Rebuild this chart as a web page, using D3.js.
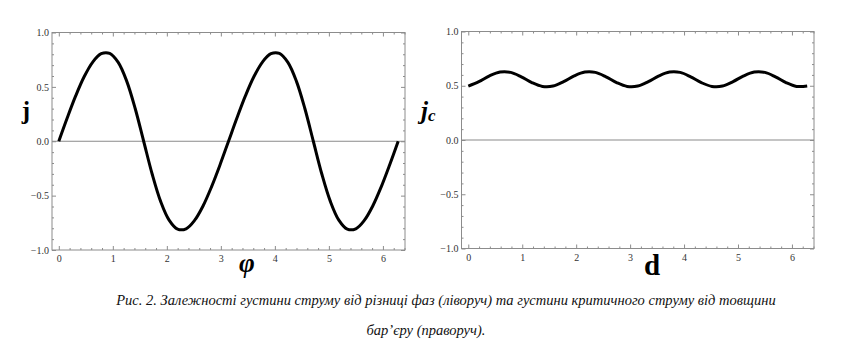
<!DOCTYPE html>
<html>
<head>
<meta charset="utf-8">
<script src="https://cdn.jsdelivr.net/npm/d3@7"></script>
<style>
  html, body { margin: 0; padding: 0; background: #fff; }
  svg { display: block; }
  svg text { font-family: "Liberation Serif", "Times New Roman", "DejaVu Serif", serif; }
</style>
</head>
<body>
<svg id="chart" width="842" height="361"></svg>
<script>
// ---- data ----
const phiValues = [0, 0.157, 0.314, 0.471, 0.628, 0.785, 0.942, 1.100, 1.257, 1.414,
  1.571, 1.728, 1.885, 2.042, 2.199, 2.356, 2.513, 2.670, 2.827, 2.985,
  3.142, 3.299, 3.456, 3.613, 3.770, 3.927, 4.084, 4.241, 4.398, 4.555,
  4.712, 4.869, 5.027, 5.184, 5.341, 5.498, 5.655, 5.812, 5.969, 6.126, 6.283];
const jValues = [0, 0.216, 0.419, 0.595, 0.728, 0.805, 0.808, 0.725, 0.553, 0.301,
  0, -0.301, -0.553, -0.725, -0.808, -0.805, -0.728, -0.595, -0.419, -0.216,
  0, 0.216, 0.419, 0.595, 0.728, 0.805, 0.808, 0.725, 0.553, 0.301,
  0, -0.301, -0.553, -0.725, -0.808, -0.805, -0.728, -0.595, -0.419, -0.216, 0];

const dValues = [0, 0.196, 0.393, 0.589, 0.785, 0.982, 1.178, 1.374,
  1.571, 1.767, 1.963, 2.160, 2.356, 2.553, 2.749, 2.945,
  3.142, 3.338, 3.534, 3.731, 3.927, 4.123, 4.320, 4.516,
  4.712, 4.909, 5.105, 5.301, 5.498, 5.694, 5.890, 6.087, 6.283];
const jcValues = [0.497, 0.538, 0.591, 0.626, 0.623, 0.582, 0.529, 0.494,
  0.497, 0.538, 0.591, 0.626, 0.623, 0.582, 0.529, 0.494,
  0.497, 0.538, 0.591, 0.626, 0.623, 0.582, 0.529, 0.494,
  0.497, 0.538, 0.591, 0.626, 0.623, 0.582, 0.529, 0.494, 0.497];

const xTickLabels = [0, 1, 2, 3, 4, 5, 6];
const yTickLabels = [-1.0, -0.5, 0.0, 0.5, 1.0];
const xDomain = [-0.126, 6.409];
const yDomain = [-1, 1];

const captionLine1 = "Рис. 2. Залежності густини струму від різниці фаз (ліворуч) та густини критичного струму від товщини";
const captionLine2 = "бар’єру (праворуч).";

// ---- drawing ----
const svg = d3.select("#chart");
svg.append("rect").attr("width", 842).attr("height", 361).attr("fill", "#fff");

const frameColor = "#8c8c8c";
const serif = "'Liberation Serif', 'Times New Roman', 'DejaVu Serif', serif";

function minorTicks(step, lo, hi, majors) {
  const out = [];
  const n0 = Math.ceil(lo / step - 1e-9), n1 = Math.floor(hi / step + 1e-9);
  for (let i = n0; i <= n1; i++) {
    const v = +(i * step).toFixed(4);
    if (!majors.some(m => Math.abs(m - v) < 1e-6)) out.push(v);
  }
  return out;
}

function panel(xr, yr, xs, ys) {
  const x = d3.scaleLinear().domain(xDomain).range(xr);
  const y = d3.scaleLinear().domain(yDomain).range(yr);
  const g = svg.append("g");

  const xMinor = minorTicks(0.2, xDomain[0], xDomain[1], xTickLabels);
  const yMinor = minorTicks(0.1, yDomain[0], yDomain[1], yTickLabels);

  function styleAxis(sel) {
    sel.attr("font-family", serif);
    sel.select(".domain").remove();
    sel.selectAll(".tick line").attr("stroke", frameColor).attr("stroke-width", 1);
    sel.selectAll(".tick text").attr("fill", "#333").style("font-family", serif).attr("font-size", 10);
  }

  // bottom
  g.append("g").attr("transform", `translate(0,${yr[0]})`)
    .call(d3.axisBottom(x).tickValues(xTickLabels).tickSize(-4).tickPadding(5).tickFormat(d3.format("d")))
    .call(styleAxis);
  g.append("g").attr("transform", `translate(0,${yr[0]})`)
    .call(d3.axisBottom(x).tickValues(xMinor).tickSize(-2).tickFormat(""))
    .call(styleAxis);
  // top
  g.append("g").attr("transform", `translate(0,${yr[1]})`)
    .call(d3.axisTop(x).tickValues(xTickLabels).tickSize(-4).tickFormat(""))
    .call(styleAxis);
  g.append("g").attr("transform", `translate(0,${yr[1]})`)
    .call(d3.axisTop(x).tickValues(xMinor).tickSize(-2).tickFormat(""))
    .call(styleAxis);
  // left
  g.append("g").attr("transform", `translate(${xr[0]},0)`)
    .call(d3.axisLeft(y).tickValues(yTickLabels).tickSize(-4).tickPadding(3).tickFormat(d3.format(".1f")))
    .call(styleAxis);
  g.append("g").attr("transform", `translate(${xr[0]},0)`)
    .call(d3.axisLeft(y).tickValues(yMinor).tickSize(-2).tickFormat(""))
    .call(styleAxis);
  // right
  g.append("g").attr("transform", `translate(${xr[1]},0)`)
    .call(d3.axisRight(y).tickValues(yTickLabels).tickSize(-4).tickFormat(""))
    .call(styleAxis);
  g.append("g").attr("transform", `translate(${xr[1]},0)`)
    .call(d3.axisRight(y).tickValues(yMinor).tickSize(-2).tickFormat(""))
    .call(styleAxis);

  // frame
  g.append("rect")
    .attr("x", xr[0]).attr("y", yr[1])
    .attr("width", xr[1] - xr[0]).attr("height", yr[0] - yr[1])
    .attr("fill", "none").attr("stroke", frameColor).attr("stroke-width", 1);

  // zero axis line
  g.append("line")
    .attr("x1", xr[0]).attr("x2", xr[1])
    .attr("y1", y(0)).attr("y2", y(0))
    .attr("stroke", "#8a8a8a").attr("stroke-width", 1.2);

  // curve
  const pts = xs.map((v, i) => [v, ys[i]]);
  g.append("path")
    .datum(pts)
    .attr("fill", "none")
    .attr("stroke", "#000")
    .attr("stroke-width", 3)
    .attr("stroke-linejoin", "round")
    .attr("d", d3.line().x(d => x(d[0])).y(d => y(d[1])).curve(d3.curveCatmullRom));

  return { x, y, g };
}

panel([52, 405], [250, 32.5], phiValues, jValues);
panel([461.5, 814], [248.5, 31.5], dValues, jcValues);

// axis titles
svg.append("text").attr("x", 26).attr("y", 119)
  .attr("text-anchor", "middle")
  .attr("font-weight", "bold").attr("font-size", 25)
  .text("j");

svg.append("text").attr("x", 247).attr("y", 272)
  .attr("text-anchor", "middle")
  .attr("font-style", "italic").attr("font-weight", "bold").attr("font-size", 27)
  .text("φ");

const jc = svg.append("text").attr("x", 421).attr("y", 119)
  .attr("font-style", "italic").attr("font-weight", "bold").attr("font-size", 25);
jc.append("tspan").text("j");
jc.append("tspan").attr("font-size", 17).attr("dy", 2).text("c");

svg.append("text").attr("x", 652).attr("y", 275)
  .attr("text-anchor", "middle")
  .attr("font-weight", "bold").attr("font-size", 29)
  .text("d");

// caption
svg.append("text").attr("x", 446).attr("y", 305)
  .attr("text-anchor", "middle")
  .attr("font-style", "italic").attr("font-size", 14.5)
  .attr("fill", "#111")
  .text(captionLine1);
svg.append("text").attr("x", 426).attr("y", 335)
  .attr("text-anchor", "middle")
  .attr("font-style", "italic").attr("font-size", 14.5)
  .attr("fill", "#111")
  .text(captionLine2);
</script>
</body>
</html>
